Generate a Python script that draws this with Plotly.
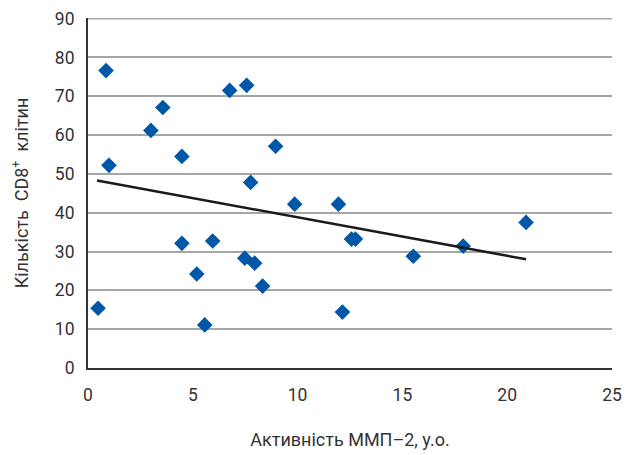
import plotly.graph_objects as go

mmp2 = [0.48, 0.86, 1.0, 3.0, 3.57, 4.48, 4.48, 5.19, 5.57, 5.95, 6.76, 7.57, 7.48, 7.76,
        7.95, 8.33, 8.95, 9.86, 11.95, 12.14, 12.57, 12.76, 15.52, 17.9, 20.9]
cd8 = [15.4, 76.6, 52.2, 61.2, 67.1, 54.5, 32.1, 24.2, 11.1, 32.7, 71.5, 72.8, 28.3, 47.8,
       27.0, 21.1, 57.1, 42.2, 42.2, 14.4, 33.2, 33.2, 28.8, 31.4, 37.5]
trend_x = [0.43, 20.9]
trend_y = [48.3, 28.0]
x_ticks = [0, 5, 10, 15, 20, 25]
y_ticks = [0, 10, 20, 30, 40, 50, 60, 70, 80, 90]

font_family = "Roboto, Liberation Sans, sans-serif"

fig = go.Figure()
fig.add_trace(go.Scatter(x=mmp2, y=cd8, mode="markers",
                         marker=dict(symbol="diamond", size=12, color="#0057a8"),
                         showlegend=False, cliponaxis=False))
fig.add_trace(go.Scatter(x=trend_x, y=trend_y, mode="lines",
                         line=dict(color="#1a1a1a", width=2.5), showlegend=False))

# top gridline at the last y tick (plotly drops gridlines on the plot edge)
fig.add_shape(type="line", xref="paper", x0=0, x1=1, yref="y", y0=y_ticks[-1], y1=y_ticks[-1],
              line=dict(color="#a6a6a6", width=2), layer="below")

fig.update_layout(
    width=624, height=447,
    margin=dict(l=80, r=20, t=10, b=87),
    paper_bgcolor="white", plot_bgcolor="white",
    font=dict(family=font_family, size=17.5, color="#333333"),
    xaxis=dict(range=[0, 25], tickvals=x_ticks, showgrid=False, zeroline=False,
               showline=True, linecolor="#333333", linewidth=2, ticks="",
               automargin=False, ticklabelstandoff=10, ticklabeloverflow="allow",
               title=dict(text="Активність ММП–2, у.о.", standoff=29,
                          font=dict(size=18))),
    yaxis=dict(range=[0, 90.15], tickvals=y_ticks, showgrid=True, gridcolor="#a6a6a6",
               gridwidth=2, zeroline=False, showline=True, linecolor="#333333",
               linewidth=2, ticks="", automargin=False, ticklabelstandoff=8,
               ticklabeloverflow="allow",
               title=dict(text="Кількість  CD8<sup>+</sup>  клітин",
                          standoff=26, font=dict(size=18))),
)
fig.write_html("out.html")
